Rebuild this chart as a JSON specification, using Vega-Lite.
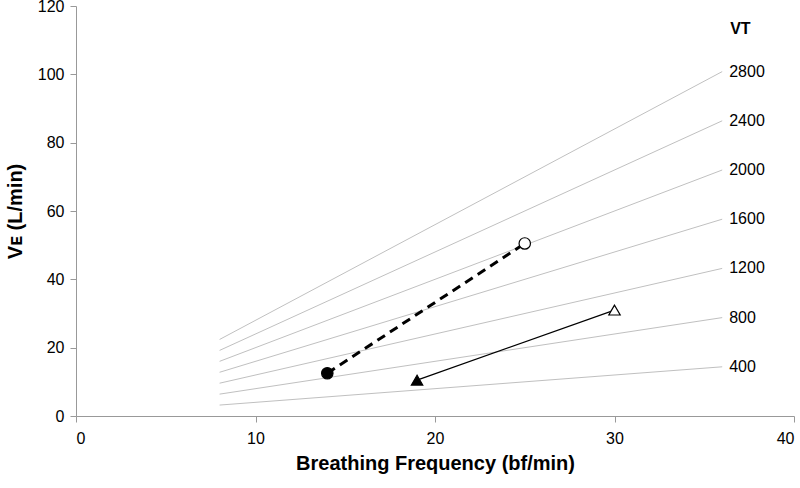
{
  "$schema": "https://vega.github.io/schema/vega-lite/v6.json",
  "autosize": "none",
  "width": 718,
  "height": 410,
  "padding": {"left": 76, "top": 6, "right": 6, "bottom": 72},
  "background": "white",
  "config": {
    "view": {"stroke": null},
    "font": "Liberation Sans",
    "axis": {
      "grid": false,
      "domainColor": "#999999",
      "tickColor": "#999999",
      "tickSize": 6,
      "labelFontSize": 16,
      "labelColor": "#000000",
      "labelFont": "Liberation Sans",
      "titleFont": "Liberation Sans",
      "titleFontSize": 20,
      "titleFontWeight": "bold",
      "titleColor": "#000000"
    }
  },
  "datasets": {
    "iso": [
      {"vt": "400", "f": 8, "ve": 3.2}, {"vt": "400", "f": 36, "ve": 14.4},
      {"vt": "800", "f": 8, "ve": 6.4}, {"vt": "800", "f": 36, "ve": 28.8},
      {"vt": "1200", "f": 8, "ve": 9.6}, {"vt": "1200", "f": 36, "ve": 43.2},
      {"vt": "1600", "f": 8, "ve": 12.8}, {"vt": "1600", "f": 36, "ve": 57.6},
      {"vt": "2000", "f": 8, "ve": 16.0}, {"vt": "2000", "f": 36, "ve": 72.0},
      {"vt": "2400", "f": 8, "ve": 19.2}, {"vt": "2400", "f": 36, "ve": 86.4},
      {"vt": "2800", "f": 8, "ve": 22.4}, {"vt": "2800", "f": 36, "ve": 100.8}
    ],
    "subj": [
      {"group": "circle", "f": 14, "ve": 12.5, "filled": "yes"},
      {"group": "circle", "f": 25, "ve": 50.5, "filled": "no"},
      {"group": "triangle", "f": 19, "ve": 10.5, "filled": "yes"},
      {"group": "triangle", "f": 30, "ve": 31, "filled": "no"}
    ]
  },
  "layer": [
    {
      "data": {"name": "iso"},
      "mark": {"type": "line", "color": "#c0c0c0", "strokeWidth": 1},
      "encoding": {
        "x": {"field": "f", "type": "quantitative", "scale": {"domain": [0, 40], "nice": false},
              "axis": {"values": [0, 10, 20, 30, 40], "title": "Breathing Frequency (bf/min)", "titlePadding": 7, "labelPadding": 8}},
        "y": {"field": "ve", "type": "quantitative", "scale": {"domain": [0, 120], "nice": false},
              "axis": {"values": [0, 20, 40, 60, 80, 100, 120], "title": "Vᴇ (L/min)", "titlePadding": 12, "labelPadding": 6}},
        "detail": {"field": "vt"}
      }
    },
    {
      "data": {"name": "iso"},
      "transform": [{"filter": "datum.f == 36"}],
      "mark": {"type": "text", "align": "left", "baseline": "middle", "dx": 7, "fontSize": 16, "color": "#000000"},
      "encoding": {
        "x": {"field": "f", "type": "quantitative"},
        "y": {"field": "ve", "type": "quantitative"},
        "text": {"field": "vt"}
      }
    },
    {
      "data": {"values": [{"f": 36, "ve": 113.3, "label": "VT"}]},
      "mark": {"type": "text", "align": "left", "baseline": "middle", "dx": 8, "fontSize": 16, "fontWeight": "bold", "color": "#000000"},
      "encoding": {
        "x": {"field": "f", "type": "quantitative"},
        "y": {"field": "ve", "type": "quantitative"},
        "text": {"field": "label"}
      }
    },
    {
      "data": {"name": "subj"},
      "transform": [{"filter": "datum.group == 'circle'"}],
      "mark": {"type": "line", "color": "#000000", "strokeWidth": 3, "strokeDash": [9, 6]},
      "encoding": {
        "x": {"field": "f", "type": "quantitative"},
        "y": {"field": "ve", "type": "quantitative"}
      }
    },
    {
      "data": {"name": "subj"},
      "transform": [{"filter": "datum.group == 'triangle'"}],
      "mark": {"type": "line", "color": "#000000", "strokeWidth": 1.2},
      "encoding": {
        "x": {"field": "f", "type": "quantitative"},
        "y": {"field": "ve", "type": "quantitative"}
      }
    },
    {
      "data": {"name": "subj"},
      "mark": {"type": "point", "stroke": "#000000", "strokeWidth": 1.2, "size": 130, "opacity": 1},
      "encoding": {
        "x": {"field": "f", "type": "quantitative"},
        "y": {"field": "ve", "type": "quantitative"},
        "shape": {"field": "group", "type": "nominal", "scale": {"domain": ["circle", "triangle"], "range": ["circle", "triangle-up"]}, "legend": null},
        "fill": {"field": "filled", "type": "nominal", "scale": {"domain": ["yes", "no"], "range": ["#000000", "#ffffff"]}, "legend": null}
      }
    }
  ]
}
